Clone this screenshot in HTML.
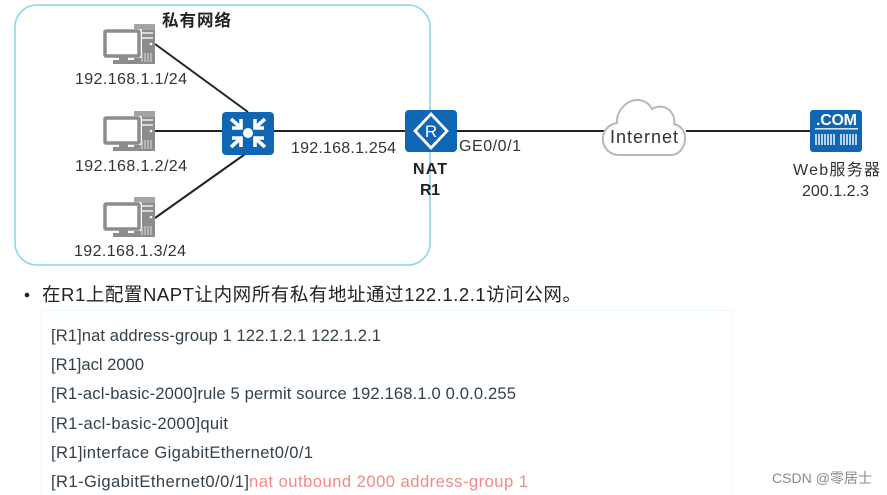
<!DOCTYPE html>
<html><head><meta charset="utf-8">
<style>
html,body{margin:0;padding:0;background:#fff}
svg{display:block}
text{font-family:"Liberation Sans","Noto Sans CJK SC",sans-serif}
</style></head>
<body>
<svg width="887" height="495" viewBox="0 0 887 495" xmlns="http://www.w3.org/2000/svg">
<defs>
<g id="pc">
<rect x="29" y="-4" width="21" height="40" fill="#8c8c8c"/>
<rect x="29" y="-4" width="21" height="6" fill="#a5a5a5"/>
<rect x="37" y="4" width="11" height="2" fill="#d8d8d8"/>
<rect x="37" y="9" width="11" height="2" fill="#d8d8d8"/>
<rect x="-2" y="1" width="39" height="29" rx="2" fill="#fff"/>
<rect x="0" y="3" width="34" height="25" rx="1" fill="#fff" stroke="#8c8c8c" stroke-width="3.500"/>
<rect x="14" y="29" width="9" height="4" fill="#8c8c8c"/>
<rect x="8" y="32" width="24" height="4" fill="#8c8c8c"/>
<path d="M37 34v-9M40 34v-9M43 34v-9M46 34v-9" stroke="#d0d0d0" stroke-width="1.200"/>
<circle cx="46" cy="16" r="1.300" fill="#fff"/>
</g>
</defs>
<rect x="15" y="5" width="415" height="260" rx="22" fill="#fff" stroke="#8fd6ea" stroke-width="1.600"/>

<g stroke="#222" stroke-width="2" fill="none">
<line x1="155" y1="44" x2="248" y2="112"/>
<line x1="155" y1="131" x2="222" y2="131"/>
<line x1="155" y1="218" x2="248" y2="152"/>
<line x1="274" y1="131" x2="405" y2="131"/>
<line x1="457" y1="131" x2="604" y2="131"/>
<line x1="686" y1="131" x2="811" y2="131"/>
</g>

<use href="#pc" x="105" y="28"/>
<use href="#pc" x="105" y="115"/>
<use href="#pc" x="105" y="201"/>

<text x="162" y="26" font-size="16.500" font-weight="700" fill="#222" textLength="69">私有网络</text>
<g font-size="16" fill="#333">
<text x="75" y="84" textLength="112">192.168.1.1/24</text>
<text x="75" y="171" textLength="112">192.168.1.2/24</text>
<text x="74" y="256" textLength="112">192.168.1.3/24</text>
<text x="291" y="153" textLength="105">192.168.1.254</text>
<text x="459" y="151" textLength="62">GE0/0/1</text>
<text x="793" y="175" textLength="87">Web服务器</text>
<text x="802" y="196" textLength="67">200.1.2.3</text>
</g>

<!-- switch -->
<rect x="222" y="112" width="52" height="43" rx="4" fill="#0f66b2"/>
<g stroke="#fff" stroke-width="3.600" fill="none">
<path d="M231 119l9 8M232 128h9v-9"/>
<path d="M265 119l-9 8M264 128h-9v-9"/>
<path d="M231 147l9-8M232 138h9v9"/>
<path d="M265 147l-9-8M264 138h-9v9"/>
</g>
<circle cx="248" cy="133" r="5" fill="#fff"/>

<!-- router -->
<rect x="405" y="110" width="52" height="42" rx="4" fill="#0f66b2"/>
<path d="M431 114l16 17-16 17-16-17z" fill="none" stroke="#fff" stroke-width="2.800"/>
<text x="431" y="137" font-size="17" fill="#fff" text-anchor="middle">R</text>
<text x="413" y="174" font-size="16" font-weight="700" fill="#222" textLength="34">NAT</text>
<text x="420" y="195" font-size="16" font-weight="700" fill="#222" textLength="20">R1</text>

<!-- cloud -->
<path d="M620 155c-12 0-18-9-17-18 1-8 7-13 14-14-1-12 10-24 22-23 7 1 11 5 13 9 6-4 15-3 19 3 3 4 4 8 3 12 8 2 12 9 11 16-1 9-7 15-14 15z" fill="#fff" stroke="#b8b8b8" stroke-width="2"/>
<text x="610" y="143" font-size="18" fill="#333" textLength="68">Internet</text>

<!-- server -->
<rect x="810" y="110" width="52" height="42" rx="3" fill="#0f66b2"/>
<text x="816" y="125" font-size="16" font-weight="700" fill="#fff" textLength="41">.COM</text>
<rect x="815" y="128" width="43" height="1.600" fill="#cfe3f5"/>
<path d="M816 134v11M819 134v11M822 134v11M825 134v11M828 134v11M831 134v11M834 134v11M841 134v11M844 134v11M847 134v11M850 134v11M853 134v11M856 134v11" stroke="#fff" stroke-width="1.400"/>

<!-- bullet -->
<circle cx="27" cy="295" r="2.300" fill="#222"/>
<text x="42" y="301" font-size="18.500" fill="#222" textLength="539">在R1上配置NAPT让内网所有私有地址通过122.1.2.1访问公网。</text>

<!-- config box -->
<rect x="41.500" y="310.500" width="690" height="190" fill="#fff" stroke="#e8fafd" stroke-width="1"/>
<g font-size="16.600" fill="#33414a">
<text x="51" y="341" textLength="330">[R1]nat address-group 1 122.1.2.1 122.1.2.1</text>
<text x="51" y="370" textLength="93">[R1]acl 2000</text>
<text x="51" y="399" textLength="465">[R1-acl-basic-2000]rule 5 permit source 192.168.1.0 0.0.0.255</text>
<text x="51" y="429" textLength="177">[R1-acl-basic-2000]quit</text>
<text x="51" y="458" textLength="262">[R1]interface GigabitEthernet0/0/1</text>
<text x="51" y="487" textLength="198">[R1-GigabitEthernet0/0/1]</text>
<text x="249" y="487" textLength="279" fill="#f28a86">nat outbound 2000 address-group 1</text>
</g>
<text x="772" y="483" font-size="14" fill="#8a8a8a" textLength="100">CSDN @零居士</text>
</svg>
</body></html>
